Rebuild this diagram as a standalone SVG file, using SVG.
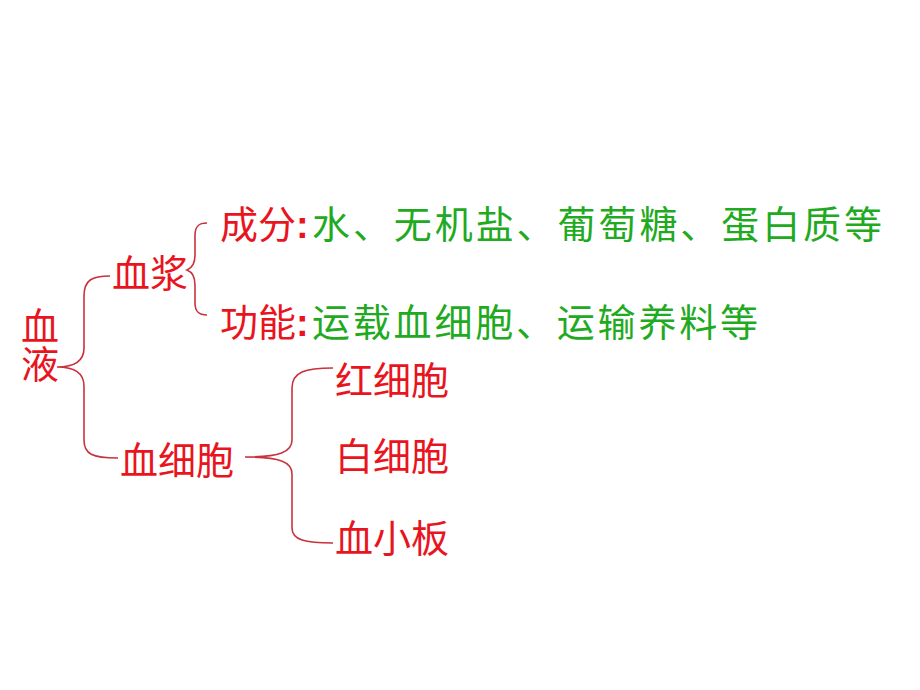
<svg xmlns="http://www.w3.org/2000/svg" width="920" height="690" viewBox="0 0 920 690">
<style>
text{font-family:"Noto Sans CJK SC","Liberation Sans",sans-serif;}
.r{fill:#e8141e;font-size:38px;}
.g{fill:#1faa1f;font-size:38px;}
.c{font-family:"Liberation Sans",sans-serif;font-weight:bold;}
.b{fill:none;stroke:#c8323c;stroke-width:1.6;}
</style>
<rect width="920" height="690" fill="#ffffff"/>
<g id="connectors">
<path class="b" d="M110,276 C92,276 84,280 84,296 L84,348 C84,362 74,367 57,367 C74,367 84,372 84,386 L84,440 C84,454 92,458 118,458"/>
<path class="b" d="M207,223 C199,223 195,226 195,235 L195,255 C195,264 192,268 187,270 C192,272 195,276 195,285 L195,303 C195,312 199,315 207,315"/>
<path class="b" d="M333,368 C305,368 292,372 292,388 L292,440 C292,452 280,457 245,457 C280,457 292,462 292,474 L292,528 C292,540 305,543 333,543"/>
</g>
<g id="blood">
<text class="r" x="40" y="307" style="writing-mode:vertical-rl">血液</text>
</g>
<g id="plasma"><text class="r" x="112" y="287">血浆</text></g>
<g id="cells"><text class="r" x="120" y="474">血细胞</text></g>
<g id="composition">
<text class="r" x="220" y="238">成分<tspan class="c">:</tspan></text>
<text class="g" x="312" y="238" textLength="570" lengthAdjust="spacing">水、无机盐、葡萄糖、蛋白质等</text>
</g>
<g id="function">
<text class="r" x="220" y="336">功能<tspan class="c">:</tspan></text>
<text class="g" x="312" y="336" textLength="446" lengthAdjust="spacing">运载血细胞、运输养料等</text>
</g>
<g id="rbc"><text class="r" x="335" y="394" font-size="39">红细胞</text></g>
<g id="wbc"><text class="r" x="335" y="470" font-size="39">白细胞</text></g>
<g id="platelet"><text class="r" x="335" y="552" font-size="39">血小板</text></g>
</svg>
